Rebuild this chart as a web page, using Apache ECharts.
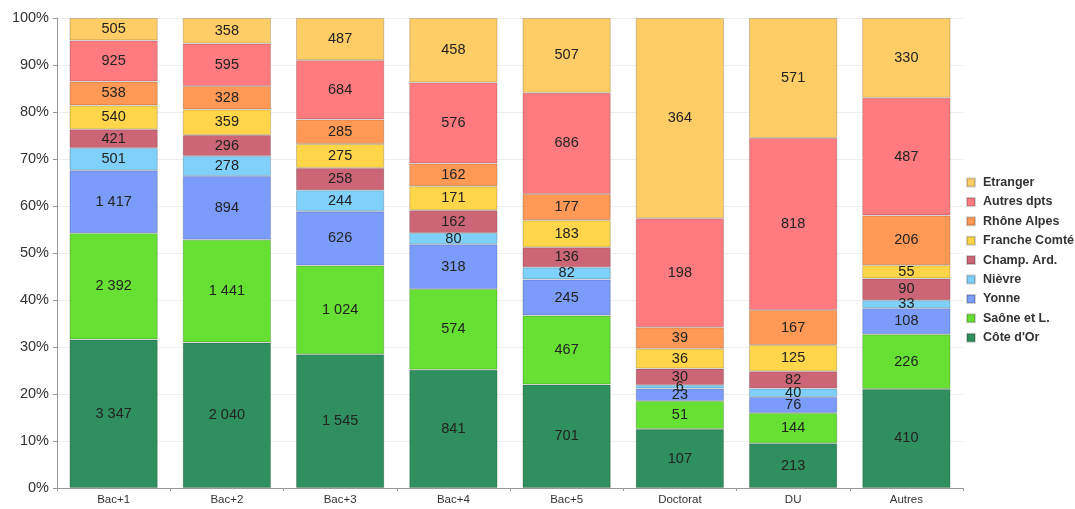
<!DOCTYPE html>
<html><head><meta charset="utf-8">
<script src="https://cdn.jsdelivr.net/npm/echarts@6/dist/echarts.min.js"></script>
<style>html,body{margin:0;padding:0;background:#fff}#c{width:1075px;height:509px}</style>
</head><body><div id="c"></div>
<script>
const categories = ['Bac+1','Bac+2','Bac+3','Bac+4','Bac+5','Doctorat','DU','Autres'];
const seriesNames = ["Côte d'Or",'Saône et L.','Yonne','Nièvre','Champ. Ard.','Franche Comté','Rhône Alpes','Autres dpts','Etranger'];
const coteDor     = [3347, 2040, 1545, 841, 701, 107, 213, 410];
const saone       = [2392, 1441, 1024, 574, 467, 51, 144, 226];
const yonne       = [1417, 894, 626, 318, 245, 23, 76, 108];
const nievre      = [501, 278, 244, 80, 82, 6, 40, 33];
const champArd    = [421, 296, 258, 162, 136, 30, 82, 90];
const francheComte= [540, 359, 275, 171, 183, 36, 125, 55];
const rhoneAlpes  = [538, 328, 285, 162, 177, 39, 167, 206];
const autresDpts  = [925, 595, 684, 576, 686, 198, 818, 487];
const etranger    = [505, 358, 487, 458, 507, 364, 571, 330];
const yTicks = ['0%','10%','20%','30%','40%','50%','60%','70%','80%','90%','100%'];

const allData = [coteDor, saone, yonne, nievre, champArd, francheComte, rhoneAlpes, autresDpts, etranger];
const colors = ['#2f8f5e','#66e033','#7b9cfb','#7fd0fb','#cc6677','#ffd54a','#ff9955','#ff7b80','#ffcd66'];
const totals = categories.map((c,i)=>allData.reduce((s,a)=>s+a[i],0));
const fmt = v => String(v).replace(/\B(?=(\d{3})+(?!\d))/g,' ');

const series = allData.map((arr,k)=>({
  name: seriesNames[k], type:'bar', stack:'s', barWidth:'78%',
  data: arr.map((v,i)=>({value: v/totals[i]*100, raw: v})),
  itemStyle:{color:colors[k], borderColor:'rgba(0,0,0,0.18)', borderWidth:1},
  label:{show:true, position:'inside', color:'#222', fontSize:14.5, fontFamily:'Liberation Sans, Arial',
    formatter: p => fmt(p.data.raw)},
  emphasis:{disabled:true}
}));

const chart = echarts.init(document.getElementById('c'), null, {renderer:'canvas'});
chart.setOption({
  animation:false,
  color: colors,
  grid:{left:57, right:112, top:18, bottom:21},
  legend:{
    orient:'vertical', left:966, top:176, padding:0,
    data: seriesNames.slice().reverse(),
    itemWidth:8, itemHeight:8, itemGap:6.4, icon:'rect',
    textStyle:{fontSize:12.5, fontWeight:'bold', color:'#333', fontFamily:'Liberation Sans, Arial', padding:[0,0,0,3]}
  },
  xAxis:{type:'category', data:categories,
    axisLine:{lineStyle:{color:'#999'}}, axisTick:{show:true, lineStyle:{color:'#999'}, length:3},
    axisLabel:{color:'#333', fontSize:11.5, margin:6, fontFamily:'Liberation Sans, Arial'}},
  yAxis:{type:'value', min:0, max:100, interval:10,
    axisLine:{show:true, lineStyle:{color:'#999'}}, axisTick:{show:true, length:4, lineStyle:{color:'#999'}},
    splitLine:{lineStyle:{color:'#eee'}},
    axisLabel:{color:'#333', fontSize:14.5, margin:8, fontFamily:'Liberation Sans, Arial',
      formatter: v => yTicks[Math.round(v/10)]}},
  series
});
</script></body></html>
